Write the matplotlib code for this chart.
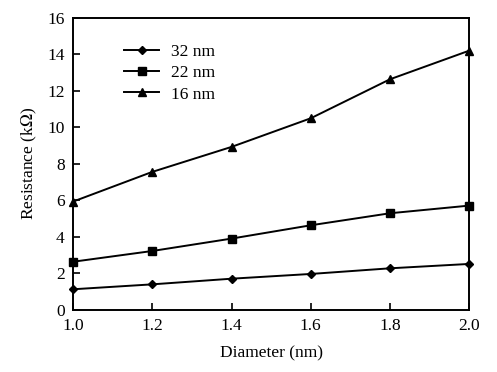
import matplotlib
matplotlib.use('Agg')
import matplotlib.pyplot as plt

plt.rcParams['font.family'] = 'Liberation Serif'
plt.rcParams['mathtext.fontset'] = 'stix'

diameter = [1.0, 1.2, 1.4, 1.6, 1.8, 2.0]
r_32nm = [1.11, 1.38, 1.69, 1.95, 2.26, 2.50]
r_22nm = [2.62, 3.21, 3.89, 4.62, 5.28, 5.70]
r_16nm = [5.92, 7.55, 8.92, 10.49, 12.63, 14.20]

fig = plt.figure(figsize=(4.97, 3.72), dpi=100)
ax = fig.add_axes([0.147, 0.168, 0.797, 0.784])

ax.plot(diameter, r_32nm, 'k-', marker='D', markersize=4.5, lw=1.4, label='32 nm', clip_on=False)
ax.plot(diameter, r_22nm, 'k-', marker='s', markersize=6, lw=1.4, label='22 nm', clip_on=False)
ax.plot(diameter, r_16nm, 'k-', marker='^', markersize=6, lw=1.4, label='16 nm', clip_on=False)

ax.set_xlim(1.0, 2.0)
ax.set_ylim(0, 16)
ax.set_xticks(diameter)
ax.set_xticklabels(['1.0', '1.2', '1.4', '1.6', '1.8', '2.0'])
ax.set_yticks(range(0, 17, 2))
ax.tick_params(direction='in', labelsize=12.5, length=5, width=1.2, pad=6)
for s in ax.spines.values():
    s.set_linewidth(1.4)

ax.set_xlabel('Diameter (nm)', fontsize=12.5, labelpad=8)
ax.set_ylabel('Resistance (k$\\Omega$)', fontsize=12.5, labelpad=6)

ax.legend(loc='upper left', bbox_to_anchor=(0.09, 0.965), frameon=False, fontsize=12.5,
          handlelength=2.0, handletextpad=0.7, labelspacing=0.3)

fig.savefig('out.png', dpi=100)
